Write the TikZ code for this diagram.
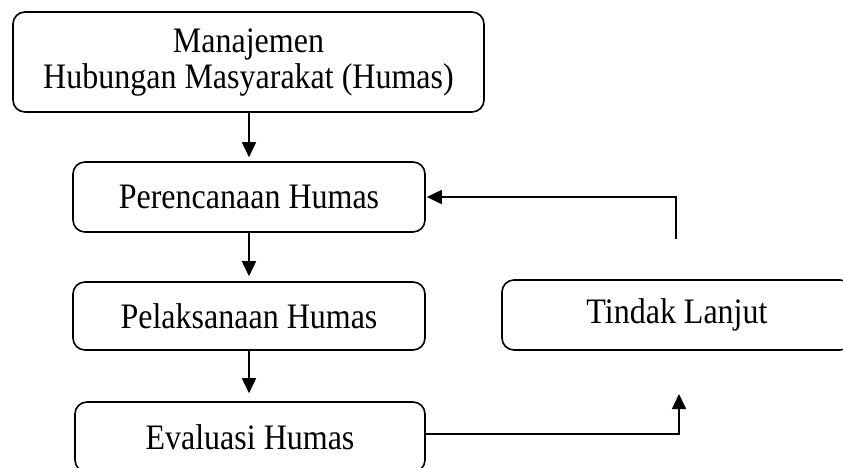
\documentclass[tikz,border=0pt]{standalone}
\usepackage{fontspec}
\setmainfont{Liberation Serif}
\usetikzlibrary{arrows.meta}
\newcommand\talltxt[1]{\scalebox{1}[1.12]{#1}}
\begin{document}
\begin{tikzpicture}[x=1pt,y=-1pt,
  box/.style={draw,line width=1.6pt,rounded corners=12pt,align=center,inner sep=0pt,
    font=\fontsize{32}{36}\selectfont},
  arr/.style={line width=1.7pt,-{Triangle[length=15pt,width=14pt]}}]
\clip (0,0) rectangle (843,467);
\node[box,minimum width=471pt,minimum height=100pt] (m) at (248.5,62) {\talltxt{Manajemen}\\\talltxt{Hubungan Masyarakat (Humas)}};
\node[box,minimum width=352pt,minimum height=70pt] (p) at (249,197) {\talltxt{Perencanaan Humas}};
\node[box,minimum width=352pt,minimum height=68pt] (l) at (249,316) {\talltxt{Pelaksanaan Humas}};
\node[box,minimum width=350pt,minimum height=70pt] (e) at (250,437) {\talltxt{Evaluasi Humas}};
\node[box,minimum width=350pt,minimum height=70pt] (t) at (677,315) {\talltxt{Tindak Lanjut}};
\coordinate (up) at (679,394);
\coordinate (fb) at (676,239);
\draw[arr,shorten >=4pt] (m.south -| 249,0) -- (p.north -| 249,0);
\draw[arr,shorten >=5pt] (p.south -| 249,0) -- (l.north -| 249,0);
\draw[arr,shorten >=8pt] (l.south -| 249,0) -- (e.north -| 249,0);
\draw[arr] (e.east |- 0,434) -| (up);
\draw[arr,shorten >=1pt] (fb) |- (p.east);
\end{tikzpicture}
\end{document}
